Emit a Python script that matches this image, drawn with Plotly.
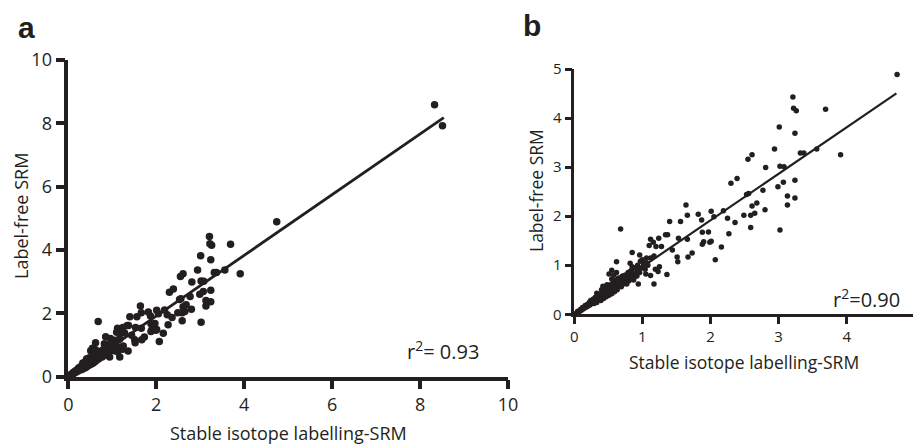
import plotly.graph_objects as go

# Shared measurements (stable isotope labelling-SRM vs label-free SRM)
sil_srm = [
    4.74, 3.21, 3.22, 3.26, 3.69, 3.01, 3.24, 2.94, 3.56, 3.32, 3.37, 3.91, 2.55, 2.61,
    2.81, 3.02, 3.08, 2.30, 2.39, 3.07, 2.99, 3.24, 2.53, 2.56, 2.77, 3.13, 3.24, 3.13,
    2.61, 2.68, 2.80, 2.25, 2.36, 2.49, 2.59, 2.65, 2.59, 3.02, 2.27, 2.16, 2.07, 2.01,
    2.05, 2.19, 1.97, 2.01, 1.88, 1.90, 1.99, 1.82, 1.87, 1.88, 1.64, 1.66, 1.56, 1.66,
    1.73, 1.67, 1.53, 1.51, 1.52, 1.40, 1.34, 1.37, 1.44, 1.28, 1.36, 1.17, 0.68, 1.24,
    1.16, 1.10, 1.20, 1.12, 0.96, 1.00, 1.06, 1.12, 1.17, 0.85, 1.25, 1.19, 1.23, 1.05,
    1.12, 0.96, 0.62, 0.55, 0.82, 0.85, 0.70, 0.77, 0.87, 0.94, 0.82, 0.51,
    0.03, 0.05, 0.07, 0.09, 0.10, 0.12, 0.13, 0.15, 0.16, 0.18, 0.19, 0.20, 0.22, 0.23,
    0.24, 0.25, 0.27, 0.28, 0.29, 0.30, 0.31, 0.32, 0.33, 0.34, 0.35, 0.36, 0.37, 0.38,
    0.39, 0.40, 0.41, 0.42, 0.43, 0.44, 0.45, 0.46, 0.47, 0.48, 0.49, 0.50, 0.51, 0.52,
    0.53, 0.54, 0.55, 0.56, 0.57, 0.58, 0.59, 0.60, 0.61, 0.62, 0.63, 0.64, 0.65, 0.66,
    0.67, 0.68, 0.69, 0.70, 0.71, 0.72, 0.73, 0.74, 0.75, 0.76, 0.77, 0.78, 0.79, 0.80,
    0.81, 0.83, 0.84, 0.86, 0.88, 0.89, 0.90, 0.92, 0.93, 0.95, 0.97, 0.99, 1.02, 1.04,
    1.06, 1.08, 0.55, 0.48, 0.40, 0.33, 0.58, 0.62, 0.42, 0.37,
]
label_free_srm = [
    4.89, 4.43, 4.20, 4.15, 4.18, 3.82, 3.69, 3.37, 3.37, 3.29, 3.29, 3.25, 3.16, 3.25,
    2.99, 3.02, 3.01, 2.67, 2.77, 2.69, 2.60, 2.73, 2.44, 2.46, 2.53, 2.41, 2.37, 2.23,
    2.21, 2.27, 2.13, 1.96, 1.87, 2.02, 2.02, 2.06, 1.77, 1.72, 1.64, 1.37, 1.11, 2.10,
    1.99, 2.11, 1.68, 1.49, 1.43, 1.48, 1.47, 2.04, 1.92, 1.67, 2.23, 2.02, 1.89, 1.53,
    1.25, 1.17, 1.55, 1.17, 1.07, 1.89, 1.62, 1.62, 1.31, 1.38, 0.81, 0.62, 1.74, 1.55,
    1.47, 1.40, 1.38, 1.53, 1.21, 1.11, 1.05, 1.15, 1.19, 1.26, 0.97, 0.92, 0.87, 0.82,
    0.79, 0.85, 1.07, 0.90, 1.04, 0.97, 0.77, 0.70, 0.70, 0.62, 0.87, 0.82,
    0.02, 0.06, 0.05, 0.10, 0.08, 0.14, 0.11, 0.13, 0.18, 0.15, 0.20, 0.17, 0.24, 0.19,
    0.28, 0.22, 0.25, 0.31, 0.22, 0.27, 0.35, 0.29, 0.24, 0.33, 0.38, 0.30, 0.41, 0.34,
    0.28, 0.37, 0.45, 0.39, 0.32, 0.42, 0.50, 0.40, 0.36, 0.46, 0.55, 0.44, 0.39, 0.52,
    0.60, 0.47, 0.42, 0.56, 0.65, 0.51, 0.46, 0.62, 0.70, 0.55, 0.50, 0.66, 0.74, 0.59,
    0.64, 0.70, 0.56, 0.67, 0.78, 0.62, 0.72, 0.66, 0.80, 0.70, 0.62, 0.75, 0.85, 0.68,
    0.78, 0.72, 0.90, 0.80, 0.75, 0.95, 0.84, 0.78, 1.00, 0.90, 1.08, 0.95, 1.02, 0.92,
    1.15, 1.00, 0.72, 0.60, 0.50, 0.43, 0.80, 0.85, 0.57, 0.37,
]
# extra high-abundance points shown only in panel a
extra_sil = [8.33, 8.51]
extra_lf = [8.59, 7.92]

# regression fits
fit_a = {"slope": 0.958, "intercept": 0.0, "xmax": 8.54}
fit_b = {"slope": 0.948, "intercept": 0.02, "xmax": 4.73}
r2_a = "0.93"
r2_b = "0.90"

ticks_a = [0, 2, 4, 6, 8, 10]
ticks_b = [0, 1, 2, 3, 4]

INK = "#231f20"
FONT = "Open Sans"
W, H = 913, 446

fig = go.Figure()

fig.add_trace(go.Scatter(
    x=sil_srm + extra_sil, y=label_free_srm + extra_lf, mode="markers",
    marker=dict(size=7.5, color=INK), xaxis="x", yaxis="y", cliponaxis=False,
))
fig.add_trace(go.Scatter(
    x=[0, fit_a["xmax"]],
    y=[fit_a["intercept"], fit_a["intercept"] + fit_a["slope"] * fit_a["xmax"]],
    mode="lines", line=dict(color=INK, width=2.8), xaxis="x", yaxis="y", cliponaxis=False,
))
fig.add_trace(go.Scatter(
    x=sil_srm, y=label_free_srm, mode="markers",
    marker=dict(size=5.5, color=INK), xaxis="x2", yaxis="y2", cliponaxis=False,
))
fig.add_trace(go.Scatter(
    x=[0, fit_b["xmax"]],
    y=[fit_b["intercept"], fit_b["intercept"] + fit_b["slope"] * fit_b["xmax"]],
    mode="lines", line=dict(color=INK, width=2.2), xaxis="x2", yaxis="y2", cliponaxis=False,
))

ax_common = dict(showgrid=False, zeroline=False, showline=True, linecolor=INK,
                 ticks="outside", tickcolor=INK, color=INK, automargin=False)

b_x0 = 574.3
b_unit = 68.1

fig.update_layout(
    width=W, height=H, margin=dict(l=0, r=0, t=0, b=0, pad=0, autoexpand=False),
    paper_bgcolor="white", plot_bgcolor="white", showlegend=False,
    font=dict(family=FONT, color=INK),
    xaxis=dict(domain=[68.3 / W, 508 / W], range=[0, 10], tickvals=ticks_a,
               linewidth=3.5, tickwidth=3.5, ticklen=9, tickfont=dict(size=18),
               anchor="y", **ax_common),
    yaxis=dict(domain=[1 - 376.7 / H, 1 - 60 / H], range=[0, 10], tickvals=ticks_a,
               linewidth=3.5, tickwidth=3.5, ticklen=9, tickfont=dict(size=18),
               anchor="x", **ax_common),
    xaxis2=dict(domain=[b_x0 / W, 1.0], range=[0, (W - b_x0) / b_unit], tickvals=ticks_b,
                linewidth=2.5, tickwidth=2.5, ticklen=7, tickfont=dict(size=15),
                anchor="y2", **ax_common),
    yaxis2=dict(domain=[1 - 314.3 / H, 1 - 69 / H], range=[0, 5], tickvals=[0, 1, 2, 3, 4, 5],
                linewidth=2.5, tickwidth=2.5, ticklen=7, tickfont=dict(size=15),
                anchor="x2", **ax_common),
)

ann = []
def txt(text, x, y, size, angle=0, family=FONT, xref="paper", yref="paper"):
    ann.append(dict(text=text, x=x, y=y, xref=xref, yref=yref, showarrow=False,
                    xanchor="center", yanchor="middle", textangle=angle,
                    font=dict(size=size, family=family, color=INK)))

txt("Stable isotope labelling-SRM", 288 / W, 1 - 433 / H, 18)
txt("Label-free SRM", 21 / W, 1 - 216 / H, 18, angle=-90)
txt("Stable isotope labelling-SRM", 744 / W, 1 - 362 / H, 17.5)
txt("Label-free SRM", 536 / W, 1 - 191 / H, 17.5, angle=-90)
txt("r<sup>2</sup>= " + r2_a, 443 / W, 1 - 350 / H, 20)
txt("r<sup>2</sup>=" + r2_b, 866 / W, 1 - 298 / H, 20)
txt("<b>a</b>", 26.7 / W, 1 - 28 / H, 30, family="Liberation Sans")
txt("<b>b</b>", 532 / W, 1 - 25 / H, 30, family="Liberation Sans")
# tick label "5" of panel b, cut off at the right border
txt("5", 5, 1 - 338 / H, 15, xref="x2")
fig.update_layout(annotations=ann)

fig.write_html("out.html", config={"displayModeBar": False},
               post_script="document.body.style.margin='0';")
